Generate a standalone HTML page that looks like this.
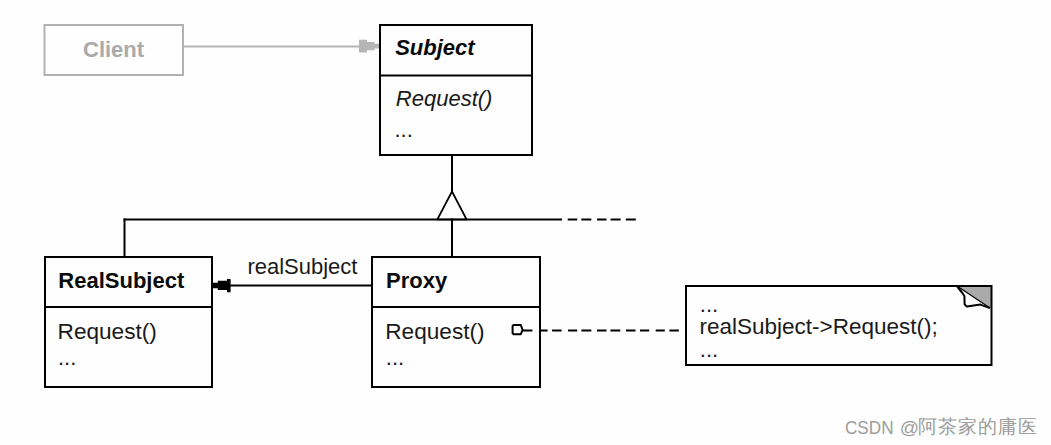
<!DOCTYPE html>
<html><head><meta charset="utf-8">
<style>
html,body{margin:0;padding:0;background:#fdfefd;}
body{width:1051px;height:445px;overflow:hidden;position:relative;}
svg{position:absolute;left:0;top:0;}
text{font-family:"Liberation Sans",sans-serif;font-size:22px;fill:#1a1a1a;}
.b{fill:#0a0a0a;}
.b{font-weight:bold;}
.i{font-style:italic;}
</style></head><body>
<svg width="1051" height="445" viewBox="0 0 1051 445">
<!-- Client (gray) -->
<rect x="44.5" y="25" width="138.5" height="50" fill="none" stroke="#b1b2b1" stroke-width="2"/>
<text x="83" y="56.5" class="b" style="fill:#a9aaa9">Client</text>
<rect x="184" y="45.5" width="176" height="2" fill="#b5b6b5"/>
<polygon points="359,39.8 367,39.8 367,42.1 374.6,42.1 374.6,43.8 379,43.8 379,48.5 374.6,48.5 374.6,50.2 367,50.2 367,52.6 359,52.6" fill="#b5b6b5"/>

<!-- Subject -->
<rect x="380" y="25" width="152" height="130" fill="none" stroke="#000" stroke-width="2"/>
<rect x="379" y="74.5" width="154" height="2" fill="#000"/>
<text x="395.2" y="54.5" class="b i">Subject</text>
<text x="395.8" y="106" class="i">Request()</text>
<text x="394.5" y="137">...</text>

<!-- inheritance -->
<rect x="451" y="155" width="2" height="37" fill="#000"/>
<polygon points="452,191.5 437.3,219.5 466.6,219.5" fill="#fdfefd" stroke="#000" stroke-width="1.7" stroke-linejoin="bevel"/>
<rect x="123.5" y="218.5" width="438.5" height="2" fill="#000"/>
<rect x="567.7" y="218.5" width="9.5" height="2" fill="#000"/>
<rect x="581.3" y="218.5" width="10" height="2" fill="#000"/>
<rect x="597" y="218.5" width="9.5" height="2" fill="#000"/>
<rect x="610.6" y="218.5" width="10" height="2" fill="#000"/>
<rect x="625.8" y="218.5" width="10" height="2" fill="#000"/>
<rect x="123.5" y="218.5" width="2" height="38" fill="#000"/>
<rect x="451" y="218.5" width="2" height="38" fill="#000"/>

<!-- RealSubject -->
<rect x="45" y="257" width="167" height="130" fill="none" stroke="#000" stroke-width="2"/>
<rect x="44" y="306" width="169" height="2" fill="#000"/>
<text x="58.3" y="288.4" class="b">RealSubject</text>
<text x="57.6" y="338.5" style="font-size:22.6px">Request()</text>
<text x="58" y="364.7">...</text>

<!-- association -->
<rect x="213" y="284.5" width="158" height="2" fill="#000"/>
<polygon points="212.4,282.8 217.8,282.8 217.8,280.8 227,280.8 227,279.1 230.6,279.1 230.6,292.3 227,292.3 227,290 217.8,290 217.8,288.2 212.4,288.2" fill="#000"/>
<text x="247.4" y="273.5">realSubject</text>

<!-- Proxy -->
<rect x="372" y="257" width="168" height="130" fill="none" stroke="#000" stroke-width="2"/>
<rect x="371" y="306" width="170" height="2" fill="#000"/>
<text x="386" y="287.8" class="b">Proxy</text>
<text x="385.3" y="338.5" style="font-size:22.6px">Request()</text>
<text x="385.8" y="365">...</text>

<!-- circle + dashes -->
<path d="M513.6,325 L520.8,325 L522.6,329.8 L520.8,334.2 L513.6,334.2 L512.6,333.2 L512.6,326 Z" fill="none" stroke="#000" stroke-width="2" stroke-linejoin="round"/>
<rect x="523" y="329.5" width="9.4" height="2" fill="#000"/>
<rect x="540.7" y="329.5" width="6.9" height="2" fill="#000"/>
<rect x="552.1" y="329.5" width="9.5" height="2" fill="#000"/>
<rect x="568.1" y="329.5" width="9.1" height="2" fill="#000"/>
<rect x="581.4" y="329.5" width="9.9" height="2" fill="#000"/>
<rect x="597" y="329.5" width="9.5" height="2" fill="#000"/>
<rect x="610.4" y="329.5" width="9.9" height="2" fill="#000"/>
<rect x="626" y="329.5" width="9.5" height="2" fill="#000"/>
<rect x="640" y="329.5" width="9.2" height="2" fill="#000"/>
<rect x="655.7" y="329.5" width="9.1" height="2" fill="#000"/>
<rect x="669.4" y="329.5" width="9.5" height="2" fill="#000"/>

<!-- Note -->
<polygon points="957,286 991,286 991,308" fill="#a9aaa9"/>
<polygon points="957,286 962,293 964.7,296 964.7,304.3 966.8,306.9 970.3,306.4 980.4,304.8 982.4,305.4 990,308" fill="#fdfefd"/>
<line x1="957" y1="286" x2="990" y2="308" stroke="#000" stroke-width="1.4"/>
<polyline points="956.6,285.8 962.4,293 964.4,296 964.6,304.3 966.8,306.6 970.3,306 980.4,304.6 982.4,305.4 990,308" fill="none" stroke="#000" stroke-width="2" stroke-linejoin="round"/>
<rect x="686" y="286" width="305.5" height="79" fill="none" stroke="#000" stroke-width="2"/>
<text x="699.8" y="311.5">...</text>
<text x="699.5" y="333.7" style="font-size:22.5px">realSubject-&gt;Request();</text>
<text x="699.8" y="356.5">...</text>

<!-- watermark -->
<g style="fill:#9c9d9c">
<text x="845" y="433.6" style="font-size:19px;fill:#9c9d9c" textLength="48.5" lengthAdjust="spacingAndGlyphs">CSDN</text>
<text x="899.8" y="433.6" style="font-size:19px;fill:#9c9d9c">@</text>
<text x="917.5" y="433.4" style="font-size:19px;letter-spacing:1.1px;fill:#9c9d9c">阿茶家的庸医</text>
</g>
</svg>
</body></html>
